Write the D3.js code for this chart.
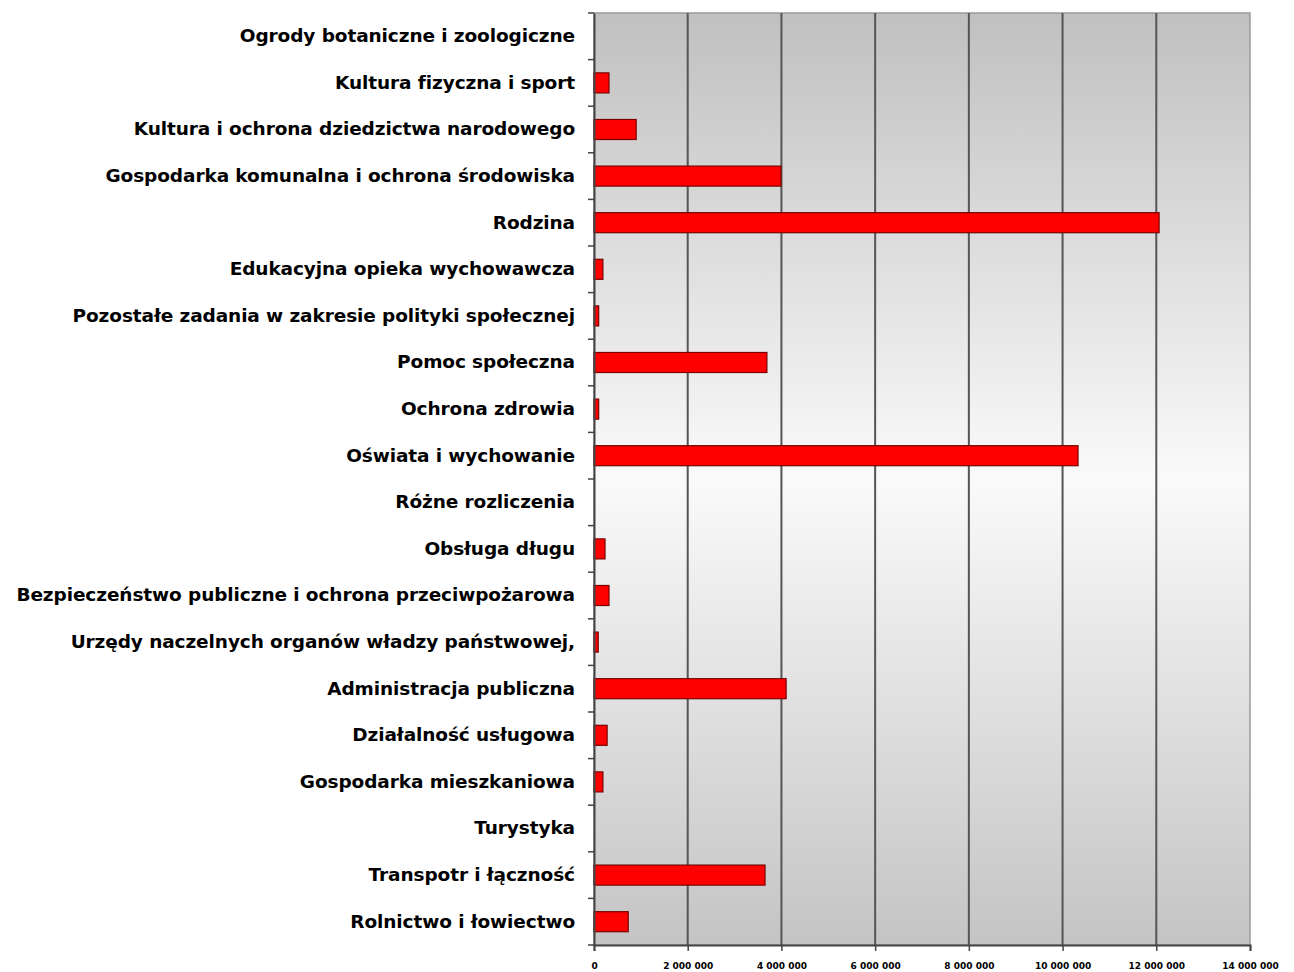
<!DOCTYPE html>
<html><head><meta charset="utf-8">
<script src="https://cdn.jsdelivr.net/npm/d3@7"></script>
<style>body{margin:0;background:#fff}</style>
</head><body>
<svg id="c" width="1294" height="972"></svg>
<script>
const categories = [
  "Ogrody botaniczne i zoologiczne",
  "Kultura fizyczna i sport",
  "Kultura i ochrona dziedzictwa narodowego",
  "Gospodarka komunalna i ochrona środowiska",
  "Rodzina",
  "Edukacyjna opieka wychowawcza",
  "Pozostałe zadania w zakresie polityki społecznej",
  "Pomoc społeczna",
  "Ochrona zdrowia",
  "Oświata i wychowanie",
  "Różne rozliczenia",
  "Obsługa długu",
  "Bezpieczeństwo publiczne i ochrona przeciwpożarowa",
  "Urzędy naczelnych organów władzy państwowej,",
  "Administracja publiczna",
  "Działalność usługowa",
  "Gospodarka mieszkaniowa",
  "Turystyka",
  "Transpotr i łączność",
  "Rolnictwo i łowiectwo"
];
const values = [
  0, 320000, 900000, 3990000, 12060000, 190000, 100000, 3690000, 100000, 10330000,
  0, 235000, 320000, 90000, 4100000, 280000, 190000, 0, 3650000, 730000
];
const tickValues = [0, 2000000, 4000000, 6000000, 8000000, 10000000, 12000000, 14000000];
const tickLabels = ["0", "2 000 000", "4 000 000", "6 000 000", "8 000 000", "10 000 000", "12 000 000", "14 000 000"];

const svg = d3.select("#c");
const L = 594, R = 1250, T = 13, B = 945;
const x = d3.scaleLinear().domain([0, 14000000]).range([L, R]);
const y = d3.scaleBand().domain(categories).range([T, B]).paddingInner(0.57).paddingOuter(0.285);

const defs = svg.append("defs");
const g = defs.append("linearGradient").attr("id", "bg").attr("x1", 0).attr("y1", 0).attr("x2", 0).attr("y2", 1);
g.append("stop").attr("offset", "0%").attr("stop-color", "#c0c0c0");
g.append("stop").attr("offset", "50%").attr("stop-color", "#fafafa");
g.append("stop").attr("offset", "100%").attr("stop-color", "#c4c4c4");

svg.append("rect").attr("x", L).attr("y", T).attr("width", R - L).attr("height", B - T)
  .attr("fill", "url(#bg)").attr("stroke", "#9a9a9a").attr("stroke-width", 1.5);

// gridlines
svg.append("g").selectAll("line").data(tickValues.slice(1, -1)).join("line")
  .attr("x1", d => x(d)).attr("x2", d => x(d)).attr("y1", T).attr("y2", B)
  .attr("stroke", "#555").attr("stroke-width", 2);

// bars
svg.append("g").selectAll("rect").data(values).join("rect")
  .attr("x", x(0))
  .attr("y", (d, i) => y(categories[i]))
  .attr("width", d => x(d) - x(0))
  .attr("height", y.bandwidth())
  .attr("fill", "#ff0000")
  .attr("stroke", "#7a0000").attr("stroke-width", 1.2);

// y axis
const yAxis = d3.axisLeft(y).tickSize(0).tickPadding(19);
const ya = svg.append("g").attr("transform", `translate(${L},0)`).call(yAxis);
ya.select(".domain").attr("stroke", "#444").attr("stroke-width", 2);
ya.selectAll("text").attr("font-family", "DejaVu Sans").attr("font-weight", "bold")
  .attr("font-size", 18.5).attr("fill", "#000").attr("letter-spacing", "-0.1px");
// band boundary ticks
const bounds = categories.map(c => y(c) - y.step() * y.paddingInner() / 2).concat([B]);
svg.append("g").selectAll("line").data(bounds).join("line")
  .attr("x1", L - 6).attr("x2", L).attr("y1", d => d).attr("y2", d => d)
  .attr("stroke", "#444").attr("stroke-width", 1.5);

// x axis
const xAxis = d3.axisBottom(x).tickValues(tickValues).tickFormat((d, i) => tickLabels[i]).tickSize(6).tickPadding(12);
const xa = svg.append("g").attr("transform", `translate(0,${B})`).call(xAxis);
xa.select(".domain").attr("stroke", "#444").attr("stroke-width", 2);
xa.selectAll(".tick line").attr("stroke", "#444").attr("stroke-width", 1.5);
xa.selectAll("text").attr("font-family", "DejaVu Sans").attr("font-weight", "bold")
  .attr("font-size", 9).attr("fill", "#000");
</script>
</body></html>
